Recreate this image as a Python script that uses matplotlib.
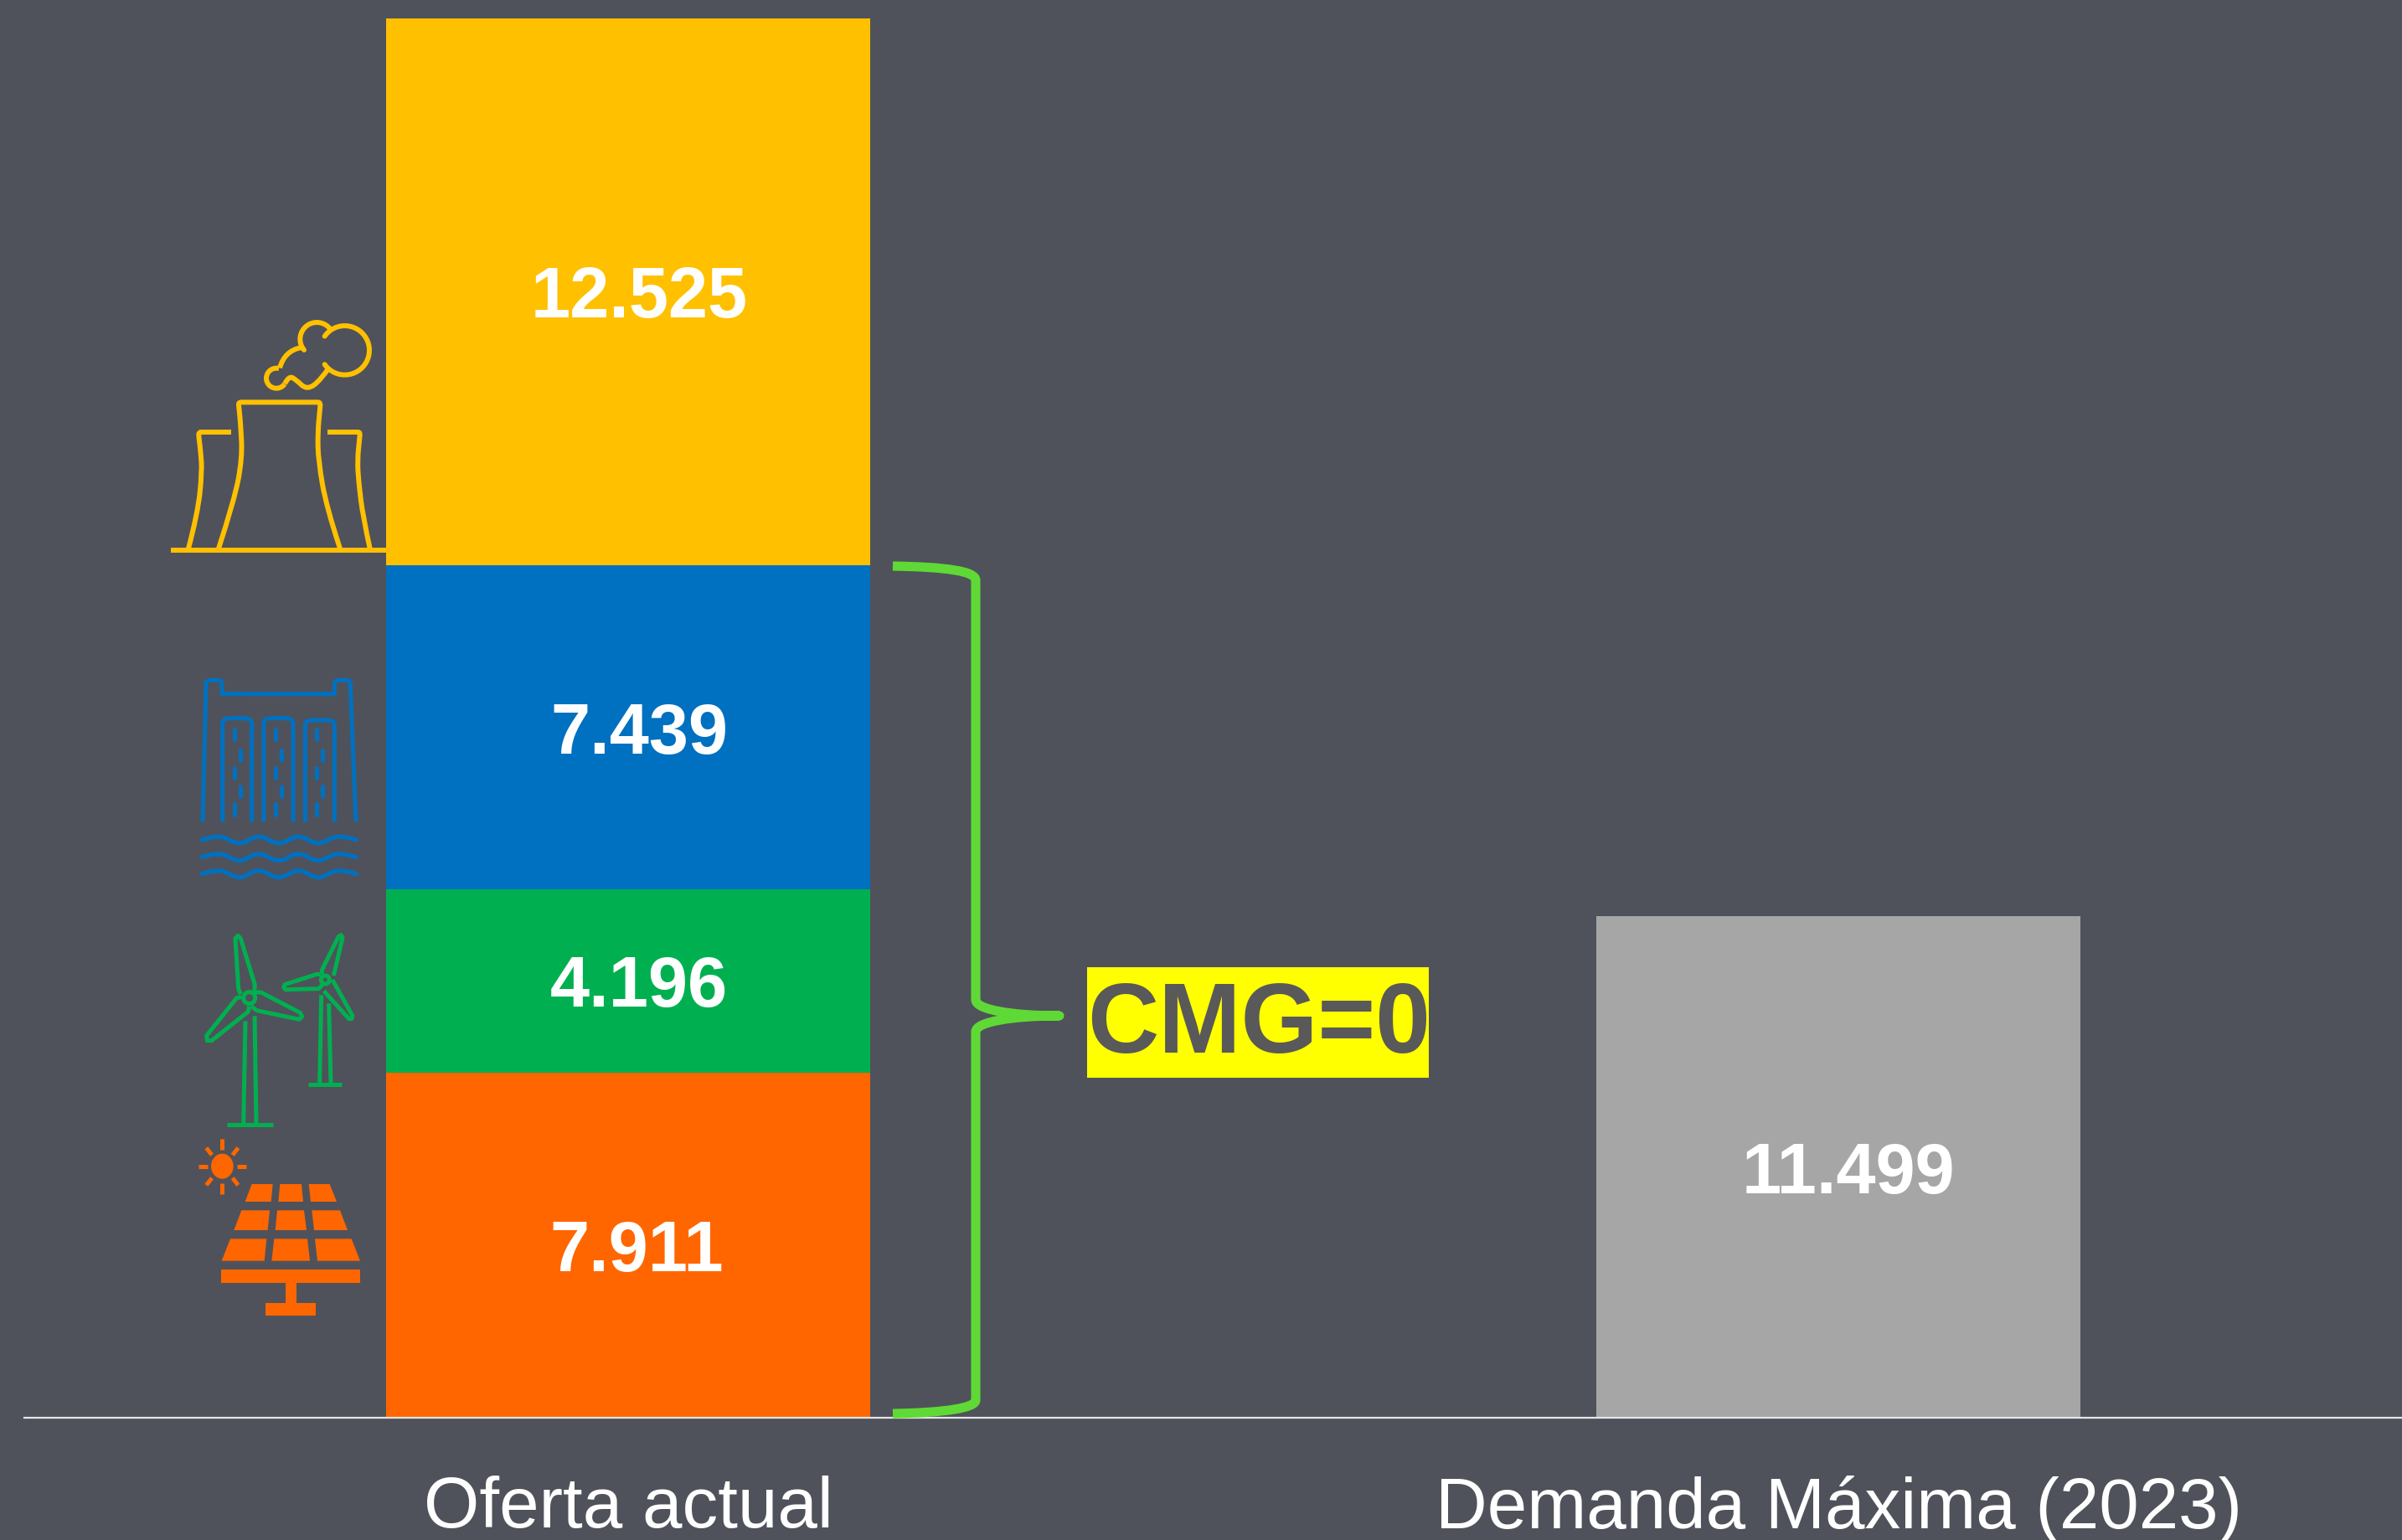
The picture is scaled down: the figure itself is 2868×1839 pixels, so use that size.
"""
Oferta actual vs demanda máxima (2023), barras apiladas con iconos por tecnología.
"""

import matplotlib
matplotlib.use("Agg")
import numpy as np
import matplotlib.pyplot as plt
from matplotlib.patches import Ellipse, PathPatch, Polygon, Rectangle
from matplotlib.path import Path

# Datos
categorias = ['Oferta actual', 'Demanda Máxima (2023)']
solar = 7911
eolica = 4196
hidro = 7439
termica = 12525
demanda = 11499

# Colores
FONDO = '#4F525A'
NARANJA = '#FF6600'
VERDE = '#00B050'
AZUL = '#0070C0'
AMARILLO = '#FFC000'
GRIS = '#A6A6A6'
LLAVE = '#5FD936'

W, H = 2868, 1839
BASE_Y = 1693
PX_POR_MW = 0.0521

plt.rcParams['font.family'] = ['Liberation Sans', 'DejaVu Sans']

fig = plt.figure(figsize=(W / 100, H / 100), dpi=100, facecolor=FONDO)

# Ejes de datos: x=0 y x=1 son las dos barras
IZQ = 29
ax = fig.add_axes([IZQ / W, (H - BASE_Y) / H, 1 - IZQ / W, BASE_Y / H], facecolor=FONDO)
ax.set_xlim((IZQ - 750) / 1445, (W - 750) / 1445)
ax.set_ylim(0, BASE_Y / PX_POR_MW)

ancho = 0.4
acumulado = 0
for valor, color in [(solar, NARANJA), (eolica, VERDE), (hidro, AZUL), (termica, AMARILLO)]:
    ax.bar(0, valor, ancho, bottom=acumulado, color=color, linewidth=0)
    acumulado += valor
ax.bar(1, demanda, ancho, color=GRIS, linewidth=0)

for s in ['top', 'left', 'right']:
    ax.spines[s].set_visible(False)
ax.spines['bottom'].set_color('#E6E6E6')
ax.spines['bottom'].set_linewidth(1.6)
ax.set_yticks([])
ax.set_xticks([0, 1])
ax.set_xticklabels(categorias, fontsize=61.5, color='white')
ax.tick_params(axis='x', length=0, pad=49.5)

# Capa en píxeles de la imagen para iconos, llave y rótulos
capa = fig.add_axes([0, 0, 1, 1], facecolor='none')
capa.set_xlim(0, W)
capa.set_ylim(H, 0)
capa.axis('off')


def formato(valor):
    return f'{valor:,}'.replace(',', '.')


# Rótulos de valor
rotulos = [(763, 357, termica), (763, 878, hidro), (763, 1180, eolica),
           (760, 1496, solar), (2207, 1403, demanda)]
for x, y, valor in rotulos:
    capa.text(x, y, formato(valor), color='white', fontsize=61, fontweight='bold',
              ha='center', va='center')


def suave(puntos):
    """Curva suave que usa los puntos intermedios como control."""
    vertices = [puntos[0]]
    codigos = [Path.MOVETO]
    for i in range(1, len(puntos) - 1):
        p, q = puntos[i], puntos[i + 1]
        medio = q if i == len(puntos) - 2 else ((p[0] + q[0]) / 2, (p[1] + q[1]) / 2)
        vertices += [p, medio]
        codigos += [Path.CURVE3, Path.CURVE3]
    if len(puntos) == 2:
        vertices.append(puntos[1])
        codigos.append(Path.LINETO)
    return Path(vertices, codigos)


def trazo(puntos, x0, y0, color, lw=4.3, cap='butt', curva=True):
    # coordenadas leídas sobre el recorte ampliado x3
    pts = [(x0 + x / 3, y0 + y / 3) for x, y in puntos]
    camino = suave(pts) if curva else Path(pts)
    capa.add_patch(PathPatch(camino, fill=False, edgecolor=color, linewidth=lw,
                             capstyle=cap, joinstyle='round'))


def arco(cx, cy, r, a0, a1):
    # trozo de circunferencia para las nubes del icono
    angulos = np.radians(np.linspace(a0, a1, 40))
    return list(zip(cx + r * np.cos(angulos), cy + r * np.sin(angulos)))


def relleno(puntos, x0, y0, color):
    pts = [(x0 + x / 3, y0 + y / 3) for x, y in puntos]
    capa.add_patch(Polygon(pts, closed=True, facecolor=color, edgecolor='none'))


def icono_termica(x0=180, y0=350, c=AMARILLO):
    trazo([(72, 922), (843, 922)], x0, y0, c)
    trazo([(243, 915), (300, 740), (328, 590), (322, 470), (316, 410), (314, 391), (335, 391),
           (590, 391), (608, 391), (606, 415), (598, 500), (600, 600), (630, 770), (678, 915)], x0, y0, c)
    trazo([(135, 915), (168, 790), (184, 640), (178, 560), (172, 515), (172, 498), (190, 498),
           (288, 498)], x0, y0, c)
    trazo([(633, 498), (735, 498), (750, 498), (748, 520), (740, 600), (745, 680), (760, 800),
           (785, 915)], x0, y0, c)
    # humo
    trazo(arco(695, 205, 88, 215, 505), x0, y0, c, cap='round', curva=False)
    trazo(arco(595, 165, 60, 320, 140), x0, y0, c, cap='round', curva=False)
    trazo([(540, 195), (480, 205), (462, 268)], x0, y0, c)
    trazo(arco(450, 305, 36, 285, 35), x0, y0, c, curva=False)
    trazo([(480, 325), (495, 296), (520, 310), (560, 348), (610, 310), (640, 265)], x0, y0, c)


def icono_hidro(x0=210, y0=780, c=AZUL):
    lw = 3.7
    trazo([(96, 605), (108, 125), (108, 97), (135, 97), (165, 97), (165, 120), (165, 145),
           (165, 146), (350, 146), (568, 146), (568, 146), (568, 120), (568, 97), (597, 97),
           (625, 97), (625, 125), (645, 605)], x0, y0, c, lw=lw)
    for izq, der, techo in [(167, 272, 233), (314, 420, 233), (463, 568, 240)]:
        medio = (izq + der) / 2
        trazo([(izq, 605), (izq, 275), (izq, techo), (medio, techo), (der, techo),
               (der, 275), (der, 605)], x0, y0, c, lw=lw)
        for dx, ya, yb in [(-11, 272, 310), (10, 347, 385), (-11, 410, 448), (10, 476, 512), (-11, 541, 578)]:
            trazo([(medio + dx, ya), (medio + dx, yb)], x0, y0, c, lw=lw, cap='round')
    for y in [669, 731, 791]:
        puntos = [(88, y + 2)]
        xs = [155, 228, 297, 368, 439, 510, 581]
        for i, x in enumerate(xs):
            puntos.append((x, y - 24 if i % 2 == 0 else y + 24))
        puntos.append((652, y + 2))
        trazo(puntos, x0, y0, c, lw=3.8)


def icono_eolica(x0=210, y0=1090, c=VERDE):
    lw = 3.6
    # aerogenerador grande
    capa.add_patch(Ellipse((x0 + 263 / 3, y0 + 305 / 3), 14, 14, fill=False, edgecolor=c, linewidth=lw))
    trazo([(232, 292), (224, 272), (213, 92), (222, 82), (232, 92), (283, 258), (281, 285)],
          x0, y0, c, lw=lw, curva=False)
    trazo([(285, 285), (305, 285), (445, 358), (452, 372), (442, 382), (290, 350), (270, 335)],
          x0, y0, c, lw=lw, curva=False)
    trazo([(235, 302), (218, 305), (110, 440), (112, 458), (128, 458), (258, 355), (263, 335)],
          x0, y0, c, lw=lw, curva=False)
    trazo([(249, 388), (242, 755)], x0, y0, c, lw=lw)
    trazo([(282, 370), (288, 755)], x0, y0, c, lw=lw)
    trazo([(183, 760), (348, 760)], x0, y0, c, lw=3.6)
    # aerogenerador pequeño
    capa.add_patch(Ellipse((x0 + 535 / 3, y0 + 240 / 3), 10, 10, fill=False, edgecolor=c, linewidth=lw))
    trazo([(522, 220), (524, 203), (583, 85), (592, 80), (597, 90), (565, 225)],
          x0, y0, c, lw=lw, curva=False)
    trazo([(520, 222), (505, 220), (390, 257), (386, 267), (392, 275), (512, 272), (525, 258)],
          x0, y0, c, lw=lw, curva=False)
    trazo([(560, 240), (568, 253), (632, 368), (630, 380), (620, 380), (530, 280)],
          x0, y0, c, lw=lw, curva=False)
    trazo([(521, 295), (515, 610)], x0, y0, c, lw=lw)
    trazo([(548, 325), (555, 610)], x0, y0, c, lw=lw)
    trazo([(474, 616), (594, 616)], x0, y0, c, lw=3.6)


def icono_solar(x0=210, y0=1340, c=NARANJA):
    paneles = [
        [(272, 222), (347, 222), (341, 285), (248, 285)],
        [(373, 222), (450, 222), (456, 285), (367, 285)],
        [(476, 222), (551, 222), (576, 285), (483, 285)],
        [(235, 316), (336, 316), (329, 387), (208, 387)],
        [(363, 316), (459, 316), (468, 387), (356, 387)],
        [(487, 316), (588, 316), (615, 387), (495, 387)],
        [(195, 418), (325, 418), (317, 497), (164, 497)],
        [(352, 418), (471, 418), (480, 497), (343, 497)],
        [(498, 418), (629, 418), (660, 497), (507, 497)],
        [(163, 528), (660, 528), (660, 575), (163, 575)],
        [(392, 575), (431, 575), (431, 648), (392, 648)],
        [(322, 648), (501, 648), (501, 693), (322, 693)],
    ]
    for p in paneles:
        relleno(p, x0, y0, c)
    capa.add_patch(Ellipse((x0 + 166 / 3, y0 + 158 / 3), 80 / 3, 90 / 3, facecolor=c, edgecolor='none'))
    rayos = [((166, 60), (166, 98)), ((166, 220), (166, 258)), ((81, 158), (113, 158)),
             ((219, 158), (252, 158)), ((109, 92), (129, 118)), ((223, 92), (203, 118)),
             ((109, 226), (129, 200)), ((223, 226), (203, 200))]
    for a, b in rayos:
        trazo([a, b], x0, y0, c, lw=3.6)


icono_termica()
icono_hidro()
icono_eolica()
icono_solar()

# Llave verde
vertices_llave = [(1066, 676), (1130, 677), (1165, 682), (1165, 693), (1165, 1194),
                  (1165, 1206), (1210, 1213), (1265, 1213),
                  (1210, 1213), (1165, 1220), (1165, 1232), (1165, 1672),
                  (1165, 1681), (1130, 1687), (1066, 1688)]
codigos_llave = [Path.MOVETO, Path.CURVE4, Path.CURVE4, Path.CURVE4, Path.LINETO,
                 Path.CURVE4, Path.CURVE4, Path.CURVE4,
                 Path.CURVE4, Path.CURVE4, Path.CURVE4, Path.LINETO,
                 Path.CURVE4, Path.CURVE4, Path.CURVE4]
capa.add_patch(PathPatch(Path(vertices_llave, codigos_llave), fill=False, edgecolor=LLAVE,
                         linewidth=8, capstyle='butt', joinstyle='round'))

# Etiqueta CMG=0
capa.add_patch(Rectangle((1298, 1155), 408, 132, facecolor='#FFFF00', edgecolor='none'))
capa.text(1503, 1226, 'CMG=0', color='#595959', fontsize=85, fontweight='bold',
          ha='center', va='center')

plt.savefig('out.png', dpi=100, facecolor=FONDO)
